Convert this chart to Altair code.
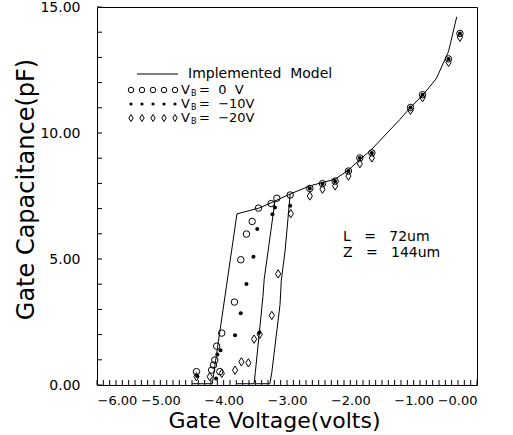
import altair as alt
import pandas as pd

# ---------------- data ----------------
# Implemented model: common upper curve
curve_v = [-3.79, -3.43, -3.19, -2.95, -2.64, -2.24, -2.05, -1.66, -1.22, -1.06, -0.85, -0.64, -0.45, -0.32]
curve_c = [6.79, 7.03, 7.30, 7.58, 7.90, 8.17, 8.49, 9.36, 10.53, 10.99, 11.52, 12.17, 13.23, 14.61]
# steep rise parts of the model for the three back-gate biases
rise0_v = [-4.50, -4.18, -3.79]
rise0_c = [0.05, 0.05, 6.79]
rise10_v = [-3.80, -3.52, -3.50, -3.38, -3.36, -3.19]
rise10_c = [0.05, 0.05, 0.50, 3.50, 4.20, 7.30]
rise20_v = [-3.50, -3.27, -3.24, -3.11, -3.09, -3.03, -2.95]
rise20_c = [0.05, 0.05, 0.50, 3.20, 4.15, 5.33, 7.58]

# Measured points, VB = 0 V (open circles)
vb0_v = [-4.43, -4.19, -4.06, -4.16, -4.14, -4.11, -4.03, -3.83, -3.73, -3.64, -3.55, -3.45,
         -3.25, -3.16, -2.95, -2.64, -2.44, -2.24, -2.03, -1.85, -1.66, -1.05, -0.86, -0.45, -0.27]
vb0_c = [0.53, 0.59, 0.53, 0.79, 0.99, 1.54, 2.06, 3.29, 4.97, 5.99, 6.49, 7.02,
         7.20, 7.41, 7.54, 7.80, 7.99, 8.09, 8.49, 9.01, 9.21, 11.01, 11.52, 12.94, 13.95]
# Measured points, VB = -10 V (filled dots)
vb10_v = [-4.42, -4.12, -4.10, -4.05, -3.82, -3.73, -3.64, -3.53, -3.47, -3.44, -3.23, -3.19,
          -2.95, -2.64, -2.44, -2.24, -2.03, -1.85, -1.66, -1.05, -0.86, -0.45, -0.27]
vb10_c = [0.36, 0.26, 1.21, 1.38, 1.97, 2.85, 4.01, 5.09, 6.19, 2.07, 6.78, 7.04,
          7.11, 7.80, 7.99, 8.09, 8.49, 9.01, 9.21, 11.01, 11.52, 12.94, 13.95]
# Measured points, VB = -20 V (diamonds)
vb20_v = [-4.43, -4.22, -4.03, -3.82, -3.72, -3.61, -3.52, -3.43, -3.24, -3.14, -2.94,
          -2.64, -2.44, -2.24, -2.03, -1.85, -1.66, -1.05, -0.86, -0.45, -0.27]
vb20_c = [0.33, 0.33, 0.46, 0.59, 0.92, 0.88, 1.82, 2.01, 2.76, 4.41, 6.80,
          7.50, 7.77, 7.90, 8.29, 8.78, 9.01, 10.90, 11.40, 12.80, 13.80]

x_tick_labels = [-6, -5, -4, -3, -2, -1, 0]
y_tick_labels = [0, 5, 10, 15]
x_minor = [round(-6 + 0.1 * i, 1) for i in range(61)]
y_minor = list(range(0, 16))

NB = "\u00a0"
legend_title = "Implemented" + NB * 2 + "Model"
legend_labels = ["=" + NB * 2 + "0" + NB * 2 + "V",
                 "=" + NB * 2 + "\u221210V", "=" + NB * 2 + "\u221220V"]
annot_labels = ["L" + NB * 3 + "=" + NB * 3 + "72um", "Z" + NB * 3 + "=" + NB * 3 + "144um"]

FONT = "DejaVu Sans"
W, H = 380, 378

xs = alt.Scale(domain=[-6, 0], nice=False, zero=False)
ys = alt.Scale(domain=[0, 15], nice=False, zero=False)

x_axis = alt.Axis(
    values=x_tick_labels, title="Gate Voltage(volts)", domain=False, ticks=False,
    tickSize=0, grid=False,
    labelExpr="datum.value == 0 ? '\u22120.00' : format(datum.value, '.2f')",
    labelFont=FONT, labelFontSize=13, labelPadding=9, labelColor="black",
    titleFont=FONT, titleFontSize=22, titleFontWeight="normal", titlePadding=3,
    titleColor="black", titleX=177)
y_axis = alt.Axis(
    values=y_tick_labels, title="Gate Capacitance(pF)", domain=False, ticks=False,
    tickSize=0, grid=False, format=".2f", labelFont=FONT, labelFontSize=14,
    labelPadding=17, labelColor="black", titleFont=FONT, titleFontSize=24,
    titleFontWeight="normal", titlePadding=1, titleColor="black", titleY=182)


def X(field="V:Q"):
    return alt.X(field, scale=xs, axis=x_axis)


def Y(field="C:Q"):
    return alt.Y(field, scale=ys, axis=y_axis)


# ---------------- build tables ----------------
rows = []
for seg, (vv, cc) in enumerate([(curve_v, curve_c), (rise0_v, rise0_c),
                                (rise10_v, rise10_c), (rise20_v, rise20_c)]):
    for i, (v, c) in enumerate(zip(vv, cc)):
        rows.append({"V": v, "C": c, "seg": seg, "ord": i})
model = pd.DataFrame(rows)
p0 = pd.DataFrame({"V": vb0_v, "C": vb0_c})
p10 = pd.DataFrame({"V": vb10_v, "C": vb10_c})
p20 = pd.DataFrame({"V": vb20_v, "C": vb20_c})

lines = alt.Chart(model).mark_line(color="black", strokeWidth=1).encode(
    x=X(), y=Y(), detail="seg:N", order="ord:Q")

DIAMOND = "M0,-1L0.62,0L0,1L-0.62,0Z"
dia = alt.Chart(p20).mark_point(shape=DIAMOND, filled=False, color="black",
                                size=70, strokeWidth=1, opacity=1).encode(x=X(), y=Y())
circ = alt.Chart(p0).mark_point(shape="circle", filled=False, color="black",
                                size=42, strokeWidth=1, opacity=1).encode(x=X(), y=Y())
dots = alt.Chart(p10).mark_circle(color="black", size=16, opacity=1).encode(x=X(), y=Y())

# inward ticks drawn as rules
xt = alt.Chart(pd.DataFrame({"V": x_minor})).mark_rule(color="black", strokeWidth=1).encode(
    x=X(), y=alt.value(H), y2=alt.value(H - 5))
yt = alt.Chart(pd.DataFrame({"C": y_minor})).mark_rule(color="black", strokeWidth=1).encode(
    y=Y(), x=alt.value(0), x2=alt.value(5))

# legend
leg_line = alt.Chart(pd.DataFrame({"a": [0]})).mark_rule(color="black", strokeWidth=1).encode(
    x=alt.value(40), x2=alt.value(81), y=alt.value(67))
leg_rows_y = [83, 97, 111]
sym_x = [34, 45, 56, 67, 78]
leg_sym = pd.DataFrame([{"px": sx, "py": leg_rows_y[r], "row": r} for r in range(3) for sx in sym_x])
ls_c = alt.Chart(leg_sym[leg_sym.row == 0]).mark_point(shape="circle", filled=False, color="black",
                                                        size=30, strokeWidth=1, opacity=1).encode(
    x=alt.X("px:Q", scale=None), y=alt.Y("py:Q", scale=None))
ls_d = alt.Chart(leg_sym[leg_sym.row == 1]).mark_circle(color="black", size=10, opacity=1).encode(
    x=alt.X("px:Q", scale=None), y=alt.Y("py:Q", scale=None))
ls_m = alt.Chart(leg_sym[leg_sym.row == 2]).mark_point(shape=DIAMOND, filled=False, color="black",
                                                        size=50, strokeWidth=1, opacity=1).encode(
    x=alt.X("px:Q", scale=None), y=alt.Y("py:Q", scale=None))

lt0 = alt.Chart(pd.DataFrame({"t": [legend_title]})).mark_text(
    font=FONT, fontSize=14, align="left", baseline="middle", color="black").encode(
    x=alt.value(91), y=alt.value(67), text="t:N")
leg_txt = pd.DataFrame({"t": legend_labels, "py": leg_rows_y})
lt = alt.Chart(leg_txt).mark_text(font=FONT, fontSize=13, align="left", baseline="middle",
                                  color="black").encode(
    x=alt.value(102), y=alt.Y("py:Q", scale=None), text="t:N")
vb = pd.DataFrame({"py": leg_rows_y})
lv = alt.Chart(vb).mark_text(font=FONT, fontSize=13, align="left", baseline="middle",
                             color="black", text="V").encode(
    x=alt.value(84), y=alt.Y("py:Q", scale=None))
lb = alt.Chart(vb).mark_text(font=FONT, fontSize=8, align="left", baseline="middle",
                             color="black", text="B", dy=4).encode(
    x=alt.value(94), y=alt.Y("py:Q", scale=None))

ann = alt.Chart(pd.DataFrame({"t": annot_labels, "py": [230, 246]})).mark_text(
    font=FONT, fontSize=14, align="left", baseline="middle", color="black").encode(
    x=alt.value(246), y=alt.Y("py:Q", scale=None), text="t:N")

chart = alt.layer(
    xt, yt, lines, dia, circ, dots,
    leg_line, ls_c, ls_d, ls_m, lt0, lt, lv, lb, ann
).properties(
    width=W, height=H,
    autosize=alt.AutoSizeParams(type="none"),
    padding={"left": 97, "top": 7, "right": 36, "bottom": 50},
    background="white",
).configure_view(stroke="black", strokeWidth=1)

chart.save("out.html", embed_options={"renderer": "svg", "actions": False})
